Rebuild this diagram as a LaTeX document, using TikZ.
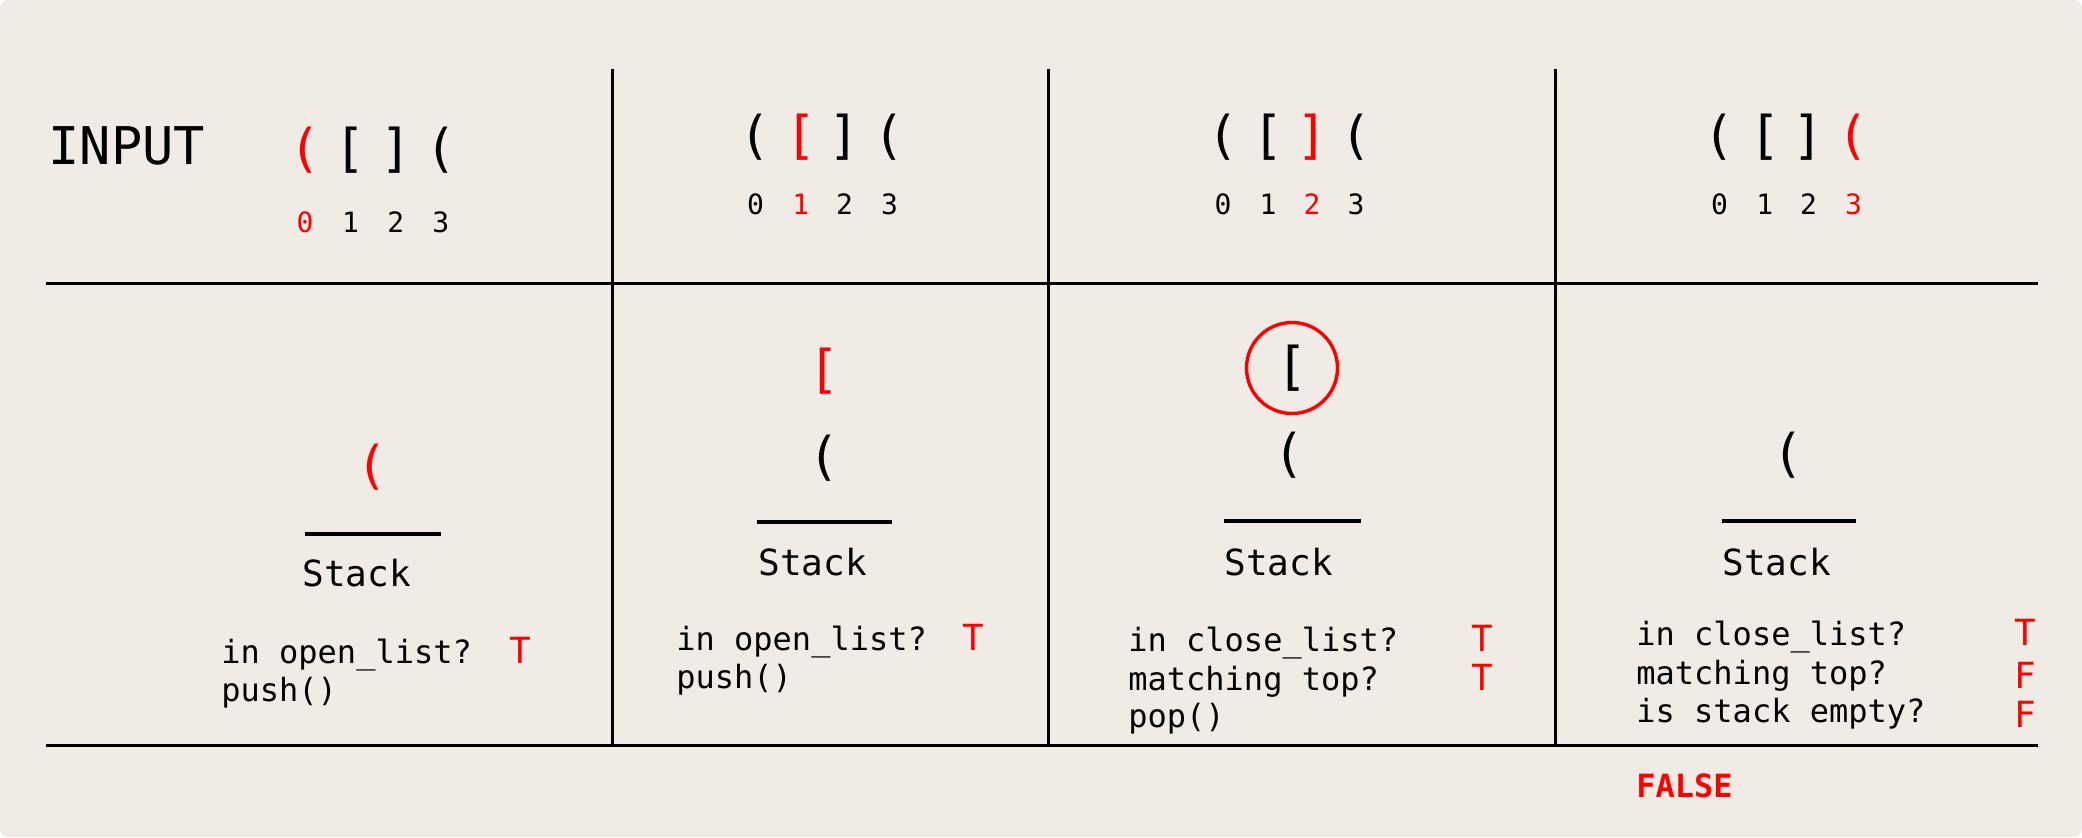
\documentclass[tikz,border=0pt]{standalone}
\usepackage{fontspec}
\setmonofont{DejaVu Sans Mono}
\definecolor{paper}{RGB}{240,235,229}
\tikzset{
  bigchar/.style={font=\ttfamily\fontsize{26}{26}\selectfont, inner sep=0pt, anchor=base},
  idx/.style={font=\ttfamily\fontsize{14}{14}\selectfont, inner sep=0pt, anchor=base},
  heading/.style={font=\ttfamily\fontsize{26}{26}\selectfont, inner sep=0pt, anchor=base west},
  stackname/.style={font=\ttfamily\fontsize{18}{18}\selectfont, inner sep=0pt, anchor=base west},
  check/.style={font=\ttfamily\fontsize{16}{16}\selectfont, inner sep=0pt, anchor=base west},
  answer/.style={font=\ttfamily\fontsize{18}{18}\selectfont, text=red, inner sep=0pt, anchor=base},
  verdict/.style={font=\ttfamily\bfseries\fontsize{16}{16}\selectfont, text=red, inner sep=0pt, anchor=base west},
  gridline/.style={line width=1.5pt},
  stackbase/.style={line width=2.3pt},
}

\begin{document}
\begin{tikzpicture}[x=0.5pt,y=-0.5pt]
        \useasboundingbox (0,0) rectangle (2082,837);
        \fill[paper, rounded corners=4pt] (0,0) rectangle (2082,837);
        % table
        \draw[gridline] (46,283) -- (2038,283);
        \draw[gridline] (46,745) -- (2038,745);
        \draw[gridline] (612,69) -- (612,745);
        \draw[gridline] (1048,69) -- (1048,745);
        \draw[gridline] (1555,69) -- (1555,745);
        % step 0
        \node[heading] (input) at (48,164) {INPUT};
        \node[bigchar, text=red] (inA0) at (305,166) {(};
        \node[bigchar] (inA1) at (350.5,166) {[};
        \node[bigchar] (inA2) at (395.7,166) {]};
        \node[bigchar] (inA3) at (440.8,166) {(};
        \node[idx, text=red] (idxA0) at (305,232) {0};
        \node[idx] (idxA1) at (350.5,232) {1};
        \node[idx] (idxA2) at (395.7,232) {2};
        \node[idx] (idxA3) at (440.8,232) {3};
        \node[bigchar, text=red] (stA0) at (372,483) {(};
        \draw[stackbase] (305,534) -- (441,534);
        \node[stackname] (stackA) at (302,586) {Stack};
        \node[check] (qA1) at (221,663) {in open\_list?};
        \node[answer] (aA1) at (520.5,663) {T};
        \node[check] (qA2) at (221,701) {push()};
        % step 1
        \node[bigchar] (inB0) at (755.5,153) {(};
        \node[bigchar, text=red] (inB1) at (800.7,153) {[};
        \node[bigchar] (inB2) at (844.5,153) {]};
        \node[bigchar] (inB3) at (889.6,153) {(};
        \node[idx] (idxB0) at (755.5,214) {0};
        \node[idx, text=red] (idxB1) at (800.7,214) {1};
        \node[idx] (idxB2) at (844.5,214) {2};
        \node[idx] (idxB3) at (889.6,214) {3};
        \node[bigchar, text=red] (stB1) at (824.6,387) {[};
        \node[bigchar] (stB0) at (824.6,474) {(};
        \draw[stackbase] (757,522) -- (892,522);
        \node[stackname] (stackB) at (758,575) {Stack};
        \node[check] (qB1) at (676,650) {in open\_list?};
        \node[answer] (aB1) at (973,650) {T};
        \node[check] (qB2) at (676,688) {push()};
        % step 2
        \node[bigchar] (inC0) at (1223,153) {(};
        \node[bigchar] (inC1) at (1268,153) {[};
        \node[bigchar, text=red] (inC2) at (1312,153) {]};
        \node[bigchar] (inC3) at (1356,153) {(};
        \node[idx] (idxC0) at (1223,214) {0};
        \node[idx] (idxC1) at (1268,214) {1};
        \node[idx, text=red] (idxC2) at (1312,214) {2};
        \node[idx] (idxC3) at (1356,214) {3};
        \node[bigchar] (stC1) at (1292,384) {[};
        \node[circle, draw=red, line width=1.7pt, minimum size=45.5pt, inner sep=0pt] (topC) at (1292,368) {};
        \node[bigchar] (stC0) at (1289,471) {(};
        \draw[stackbase] (1224,521) -- (1361,521);
        \node[stackname] (stackC) at (1224,575) {Stack};
        \node[check] (qC1) at (1128,651) {in close\_list?};
        \node[answer] (aC1) at (1482,651) {T};
        \node[check] (qC2) at (1128,690) {matching top?};
        \node[answer] (aC2) at (1482,690) {T};
        \node[check] (qC3) at (1128,727) {pop()};
        % step 3
        \node[bigchar] (inD0) at (1719.5,153) {(};
        \node[bigchar] (inD1) at (1764.7,153) {[};
        \node[bigchar] (inD2) at (1808.5,153) {]};
        \node[bigchar, text=red] (inD3) at (1853.6,153) {(};
        \node[idx] (idxD0) at (1719.5,214) {0};
        \node[idx] (idxD1) at (1764.7,214) {1};
        \node[idx] (idxD2) at (1808.5,214) {2};
        \node[idx, text=red] (idxD3) at (1853.6,214) {3};
        \node[bigchar] (stD0) at (1788.6,471) {(};
        \draw[stackbase] (1722,521) -- (1856,521);
        \node[stackname] (stackD) at (1722,575) {Stack};
        \node[check] (qD1) at (1636,645) {in close\_list?};
        \node[answer] (aD1) at (2025,645) {T};
        \node[check] (qD2) at (1636,684) {matching top?};
        \node[answer] (aD2) at (2025,688) {F};
        \node[check] (qD3) at (1636,722) {is stack empty?};
        \node[answer] (aD3) at (2025,727) {F};
        \node[verdict] (result) at (1636,797) {FALSE};
    \end{tikzpicture}
\end{document}
